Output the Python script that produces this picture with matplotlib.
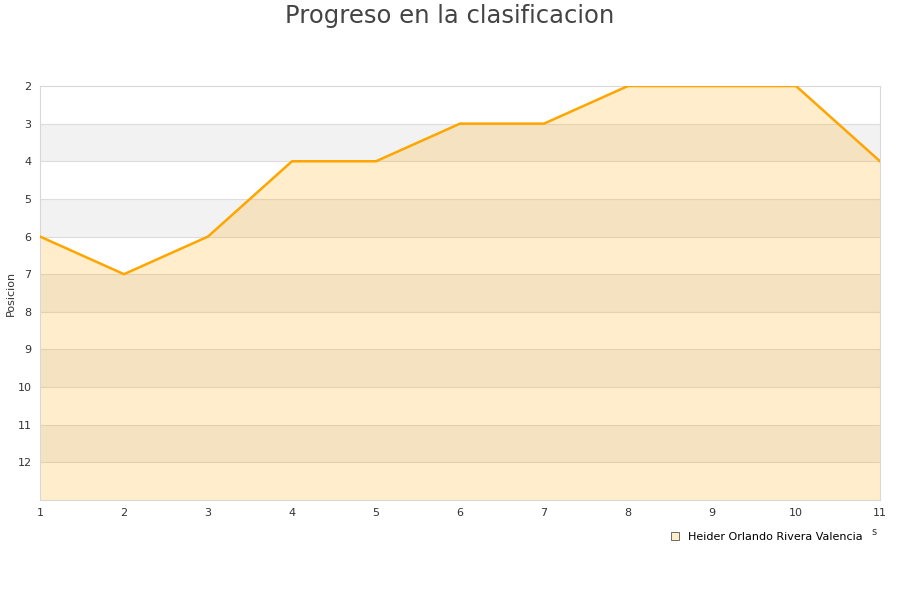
import matplotlib.pyplot as plt

# datos
jornadas = [1, 2, 3, 4, 5, 6, 7, 8, 9, 10, 11]
posicion = [6, 7, 6, 4, 4, 3, 3, 2, 2, 2, 4]
jugador = "Heider Orlando Rivera Valencia"
pos_ticks = list(range(2, 13))

fig = plt.figure(figsize=(9, 6), dpi=100)
ax = fig.add_axes([40 / 900, 100 / 600, 840 / 900, 414 / 600])

ax.set_xlim(1, 11)
ax.set_ylim(13, 2)

# bandas alternas
for y in range(3, 13, 2):
    ax.axhspan(y, y + 1, color='#f2f2f2', zorder=0, lw=0)
for y in range(3, 13):
    ax.axhline(y, color='#dddddd', lw=0.8, zorder=1)

ax.fill_between(jornadas, posicion, 13, color='orange', alpha=0.2, lw=0, zorder=2)
ax.plot(jornadas, posicion, color='orange', lw=1.8, zorder=3)

ax.set_xticks(jornadas)
ax.set_yticks(pos_ticks)
ax.tick_params(length=0, labelsize=8, labelcolor='#333333', pad=6)
for s in ax.spines.values():
    s.set_color('#d8d8d8')

fig.text(11 / 900, 1 - 293 / 600, "Posicion", fontsize=8, color='#333333',
         rotation=90, ha='center', va='center')
fig.text(0.5, 1 - 16 / 600, "Progreso en la clasificacion", fontsize=17.5,
         color='#444444', ha='center', va='center')

fig.text(874 / 900, 1 - 532 / 600, "s", fontsize=7, color='#333333', ha='center', va='center')

h = plt.Rectangle((0, 0), 1, 1, facecolor='#ffecc8', edgecolor='#555555', lw=0.6)
fig.legend([h], [jugador], loc='center', bbox_to_anchor=(767 / 900, 1 - 537 / 600),
           frameon=False, fontsize=8, handlelength=0.7, handleheight=0.7, handletextpad=0.8)

fig.savefig("out.png", dpi=100)
